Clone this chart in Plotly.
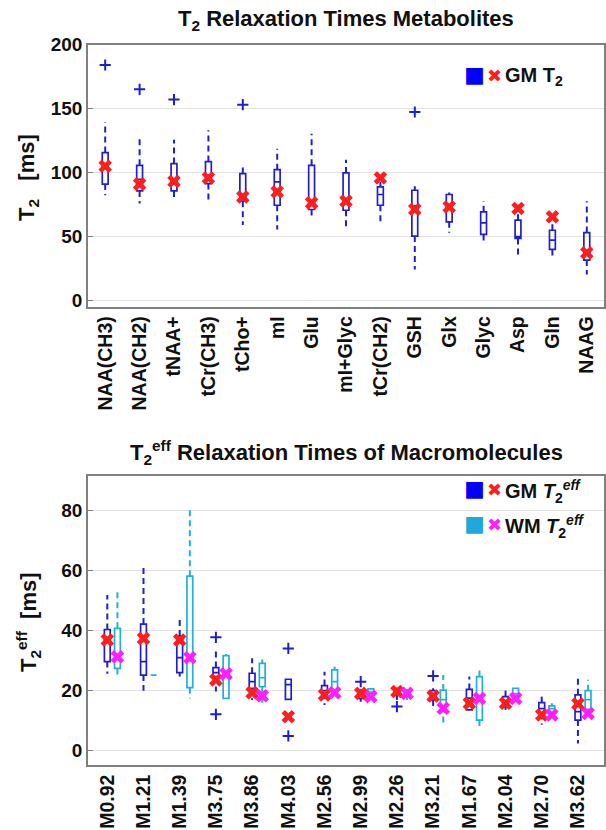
import plotly.graph_objects as go

# ---------------- Metabolites (top) ----------------
met_names = ["NAA(CH3)", "NAA(CH2)", "tNAA+", "tCr(CH3)", "tCho+", "mI", "Glu", "mI+Glyc",
             "tCr(CH2)", "GSH", "Glx", "Glyc", "Asp", "Gln", "NAAG"]
met_low = [82.3, 75.8, 79.0, 75.8, 59.0, 55.6, 65.5, 55.0, 59.5, 24.4, 53.0, 45.5, 35.6, 34.8, 20.5]
met_q1 = [91.0, 85.7, 85.7, 91.4, 77.7, 74.5, 71.2, 70.6, 74.5, 50.4, 61.6, 51.7, 48.6, 40.0, 31.7]
met_med = [104.0, 94.8, 93.0, 98.0, 83.0, 92.7, 75.8, 78.0, 82.9, 74.0, 73.0, 60.8, 50.0, 47.3, 37.0]
met_q3 = [115.6, 105.7, 107.0, 108.6, 99.2, 102.3, 105.7, 99.7, 88.8, 86.2, 82.9, 69.4, 62.9, 55.0, 53.2]
met_up = [139.5, 126.5, 125.7, 133.0, 104.4, 118.7, 130.4, 110.0, 92.7, 89.4, 84.4, 77.7, 67.5, 60.3, 77.7]
met_gm_mean = [105.0, 91.0, 93.2, 95.8, 81.0, 85.0, 76.4, 77.7, 95.8, 71.2, 73.2, None, 72.0, 65.5, 37.4]
met_out_idx = [0, 1, 2, 4, 9]
met_out_val = [184.0, 165.0, 157.0, 153.0, 147.3]

# ---------------- Macromolecules (bottom) ----------------
mm_names = ["M0.92", "M1.21", "M1.39", "M3.75", "M3.86", "M4.03", "M2.56", "M2.99", "M2.26",
            "M3.21", "M1.67", "M2.04", "M2.70", "M3.62"]
gm_low = [25.6, 20.0, 24.7, 19.7, 16.9, 17.1, 15.2, 16.3, 16.9, 13.6, 13.6, 13.6, 8.6, 2.4]
gm_q1 = [29.7, 25.2, 26.0, 24.7, 20.8, 17.1, 19.1, 17.4, 18.6, 16.9, 13.6, 14.7, 12.4, 10.2]
gm_med = [36.0, 29.7, 31.0, 26.0, 23.0, 22.0, 20.0, 19.0, 19.5, 18.5, 17.5, 16.0, 14.0, 13.0]
gm_q3 = [40.4, 42.2, 38.2, 27.7, 25.8, 23.8, 21.7, 20.2, 20.8, 20.0, 20.4, 18.0, 16.0, 18.6]
gm_up = [51.9, 61.3, 44.7, 33.6, 30.8, 23.8, 26.3, 20.2, 20.8, 20.8, 24.7, 20.8, 18.6, 24.7]
gm_mean = [36.9, 37.4, 36.9, 23.6, 19.3, 11.3, 18.6, 19.1, 19.7, 18.2, 15.8, 15.8, 11.9, 15.6]
gm_out_idx = [3, 3, 5, 5, 7, 8, 9]
gm_out_val = [37.8, 12.1, 34.1, 4.9, 23.0, 14.7, 24.9]

wm_low = [24.4, 25.2, 17.4, 17.4, 14.9, None, 20.0, 18.6, 16.9, 8.6, 7.4, 17.4, 12.4, 13.8]
wm_q1 = [27.4, 25.2, 21.0, 17.4, 21.3, None, 20.0, 18.6, 18.0, 14.7, 10.2, 17.4, 12.4, 13.8]
wm_med = [31.0, 25.2, 30.0, 25.0, 24.3, None, 23.0, 19.5, 19.0, 17.0, 17.0, 19.0, 14.0, 17.0]
wm_q3 = [40.8, 25.2, 58.2, 31.7, 29.1, None, 26.9, 20.6, 20.2, 20.2, 24.7, 20.8, 14.9, 20.0]
wm_up = [54.1, 25.2, 80.2, 32.2, 30.4, None, 28.0, 20.6, 20.2, 25.2, 27.1, 20.8, 15.8, 23.6]
wm_mean = [31.3, None, 31.0, 25.6, 18.3, None, 19.3, 18.0, 19.1, 14.1, 17.4, 17.4, 11.9, 12.4]

BLUE = "#1f1fd2"
CYAN = "#1eb2d6"
RED = "#ff1e1e"
MAG = "#ff1eff"
FONT = "Liberation Sans, Arial, sans-serif"

fig = go.Figure()


def add_boxes(pos, low, q1, med, q3, up, color, xa, ya, width):
    idx = [i for i in range(len(pos)) if q1[i] is not None]
    fig.add_trace(go.Box(
        x=[pos[i] for i in idx], q1=[q1[i] for i in idx], median=[med[i] for i in idx],
        q3=[q3[i] for i in idx], lowerfence=[q1[i] for i in idx], upperfence=[q3[i] for i in idx],
        width=width, whiskerwidth=0, line=dict(color=color, width=1.7),
        fillcolor="rgba(255,255,255,0)", xaxis=xa, yaxis=ya, showlegend=False, hoverinfo="skip"))
    wx, wy = [], []
    for i in idx:
        if up[i] > q3[i]:
            wx += [pos[i], pos[i], None]
            wy += [q3[i], up[i], None]
        if low[i] < q1[i]:
            wx += [pos[i], pos[i], None]
            wy += [q1[i], low[i], None]
    fig.add_trace(go.Scatter(x=wx, y=wy, mode="lines", xaxis=xa, yaxis=ya,
                             line=dict(color=color, width=2, dash="6px,4px"),
                             showlegend=False, hoverinfo="skip"))


def add_points(x, y, color, symbol, size, xa, ya, lw=0):
    fig.add_trace(go.Scatter(x=x, y=y, mode="markers", xaxis=xa, yaxis=ya,
                             marker=dict(symbol=symbol, size=size, color=color,
                                         line=dict(width=lw, color=color)),
                             showlegend=False, hoverinfo="skip"))


# top
met_pos = list(range(1, len(met_names) + 1))
add_boxes(met_pos, met_low, met_q1, met_med, met_q3, met_up, BLUE, "x", "y", 0.17)
add_points([met_pos[i] for i in met_out_idx], met_out_val, BLUE, "cross-thin", 8, "x", "y", lw=2)
add_points(met_pos, met_gm_mean, RED, "x", 12, "x", "y")

# bottom
OFF = 0.28
gm_pos = list(range(1, len(mm_names) + 1))
wm_pos = [p + OFF for p in gm_pos]
add_boxes(gm_pos, gm_low, gm_q1, gm_med, gm_q3, gm_up, BLUE, "x2", "y2", 0.16)
add_boxes(wm_pos, wm_low, wm_q1, wm_med, wm_q3, wm_up, CYAN, "x2", "y2", 0.16)
add_points([gm_pos[i] for i in gm_out_idx], gm_out_val, BLUE, "cross-thin", 8, "x2", "y2", lw=2)
add_points(gm_pos, gm_mean, RED, "x", 12, "x2", "y2")
add_points(wm_pos, wm_mean, MAG, "x", 12, "x2", "y2")

W, H = 606, 830
xdom = [88 / W, 604 / W]
top_dom = [1 - 306.7 / H, 1 - 44.5 / H]
bot_dom = [1 - 765 / H, 1 - 476 / H]

axis_common = dict(showline=True, linecolor="#808080", linewidth=1.5, mirror=True,
                   zeroline=False, automargin=False)
tickfont = dict(family=FONT, size=19, color="#111111", weight="bold")
xtickfont = dict(family=FONT, size=19.5, color="#111111", weight="bold")

fig.update_layout(
    width=W, height=H, margin=dict(l=0, r=0, t=0, b=0, autoexpand=False),
    paper_bgcolor="white", plot_bgcolor="white", showlegend=False,
    xaxis=dict(domain=xdom, anchor="y", range=[0.5, 15.5], tickmode="array",
               tickvals=met_pos, ticktext=met_names, tickangle=-90, ticks="",
               showgrid=False, tickfont=xtickfont, **axis_common),
    yaxis=dict(domain=top_dom, anchor="x", range=[-4.7, 200], tickvals=[0, 50, 100, 150, 200],
               showgrid=True, gridcolor="#e2e2e2", gridwidth=1, ticks="inside", ticklen=5,
               tickcolor="#808080", tickfont=tickfont, **axis_common),
    xaxis2=dict(domain=xdom, anchor="y2", range=[0.467, 14.72], tickmode="array",
                tickvals=gm_pos, ticktext=mm_names, tickangle=-90, ticks="",
                showgrid=False, tickfont=xtickfont, **axis_common),
    yaxis2=dict(domain=bot_dom, anchor="x2", range=[-4.8, 91.6], tickvals=[0, 20, 40, 60, 80],
                showgrid=True, gridcolor="#e2e2e2", gridwidth=1, ticks="inside", ticklen=5,
                tickcolor="#808080", tickfont=tickfont, **axis_common),
)

title_font = dict(family=FONT, size=22, color="#111111", weight="bold")
label_font = dict(family=FONT, size=22, color="#111111", weight="bold")
legend_font = dict(family=FONT, size=20, color="#111111", weight="bold")
SQ_FAMILY = "Noto Sans CJK JP"
SQ_SIZE = 21
ann = [
    dict(text="T<sub>2</sub> Relaxation Times Metabolites", x=346 / W, y=1 - 20 / H,
         font=title_font),
    dict(text="T<sub>2</sub><sup>eff</sup> Relaxation Times of Macromolecules", x=346 / W,
         y=1 - 452 / H, font=title_font),
    dict(text="T<sub>2</sub>   [ms]", x=28 / W, y=1 - 178 / H, textangle=-90, font=label_font),
    dict(text="T<sub>2</sub><sup>eff</sup>  [ms]", x=28 / W, y=1 - 622 / H, textangle=-90,
         font=label_font),
    # legend (top)
    dict(text="■", x=462 / W, y=1 - 75 / H, xanchor="left",
         font=dict(family=SQ_FAMILY, size=SQ_SIZE, color="#0000ff")),
    dict(text="✖", x=485 / W, y=1 - 75 / H, xanchor="left", font=dict(size=18, color=RED)),
    dict(text="GM T<sub>2</sub>", x=503 / W, y=1 - 77 / H, xanchor="left", font=legend_font),
    # legend (bottom)
    dict(text="■", x=462 / W, y=1 - 489 / H, xanchor="left",
         font=dict(family=SQ_FAMILY, size=SQ_SIZE, color="#0000ff")),
    dict(text="✖", x=485 / W, y=1 - 489 / H, xanchor="left", font=dict(size=18, color=RED)),
    dict(text="GM <i>T</i><sub>2</sub><sup><i>eff</i></sup>", x=503 / W, y=1 - 491 / H,
         xanchor="left", font=legend_font),
    dict(text="■", x=462 / W, y=1 - 524 / H, xanchor="left",
         font=dict(family=SQ_FAMILY, size=SQ_SIZE, color="#1fa8dc")),
    dict(text="✖", x=485 / W, y=1 - 524 / H, xanchor="left", font=dict(size=18, color=MAG)),
    dict(text="WM <i>T</i><sub>2</sub><sup><i>eff</i></sup>", x=503 / W, y=1 - 526 / H,
         xanchor="left", font=legend_font),
]
for a in ann:
    a.setdefault("xanchor", "center")
    a.update(xref="paper", yref="paper", yanchor="middle", showarrow=False)
fig.update_layout(annotations=ann)

fig.write_html("out.html")
